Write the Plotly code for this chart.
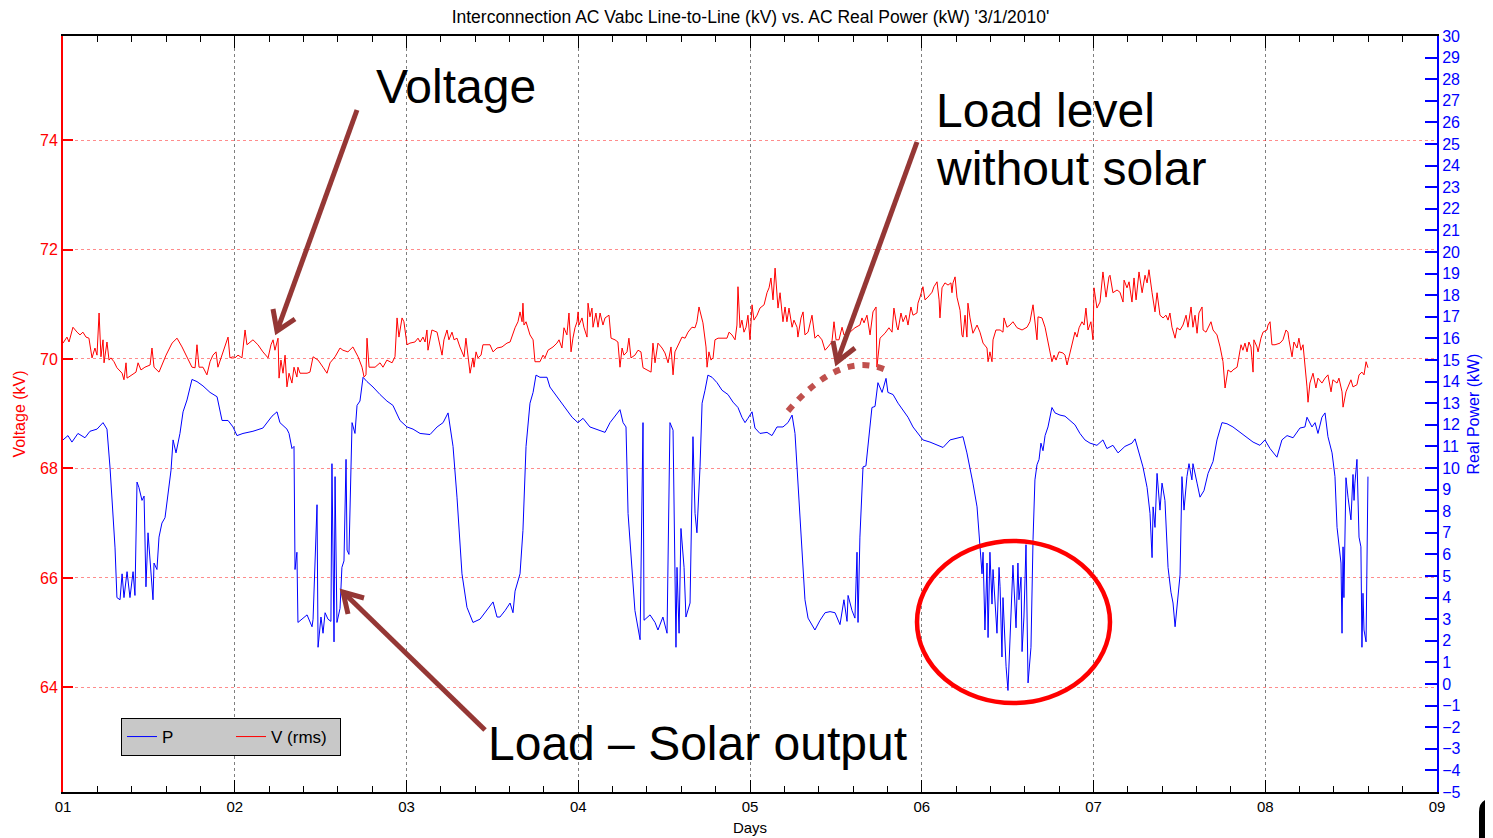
import plotly.graph_objects as go

# ---------------- data ----------------
# Real power P (kW), right axis
p_day = [1.000,1.029,1.052,1.087,1.128,1.157,1.198,1.233,1.256,1.274,1.303,1.314,1.332,1.344,1.355,1.373,1.390,1.408,1.419,1.431,
         1.442,1.460,1.472,1.483,1.495,1.524,1.530,1.547,1.559,1.576,1.594,1.611,1.629,1.641,1.658,1.681,1.699,1.722,1.751,1.780,
         1.815,1.856,1.897,1.926,1.961,1.990,2.013,2.048,2.106,2.164,2.217,2.246,2.263,2.304,2.316,2.333,2.345,2.351,2.362,2.368,
         2.392,2.421,2.450,2.456,2.479,2.485,2.502,2.514,2.526,2.543,2.560,2.566,2.578,2.584,2.595,2.613,2.624,2.636,2.648,2.654,
         2.665,2.683,2.700,2.712,2.729,2.747,2.770,2.805,2.846,2.886,2.921,2.962,3.003,3.038,3.079,3.137,3.178,3.213,3.242,3.253,
         3.271,3.294,3.323,3.352,3.387,3.428,3.468,3.504,3.527,3.544,3.574,3.603,3.620,3.632,3.661,3.678,3.696,3.719,3.737,3.754,
         3.777,3.818,3.835,3.882,3.923,3.964,3.998,4.028,4.068,4.115,4.156,4.185,4.243,4.261,4.278,4.290,4.313,4.330,4.360,4.377,
         4.383,4.418,4.447,4.464,4.493,4.517,4.534,4.552,4.569,4.575,4.587,4.598,4.616,4.627,4.651,4.668,4.680,4.691,4.709,4.721,
         4.738,4.755,4.779,4.808,4.837,4.872,4.901,4.930,4.953,4.971,4.988,5.012,5.029,5.058,5.099,5.128,5.157,5.192,5.221,5.245,
         5.262,5.279,5.303,5.320,5.338,5.378,5.408,5.437,5.466,5.495,5.524,5.547,5.565,5.571,5.594,5.611,5.623,5.629,5.640,5.658,
         5.675,5.687,5.710,5.728,5.745,5.769,5.792,5.803,5.833,5.862,5.891,5.920,5.949,5.978,6.007,6.048,6.089,6.124,6.165,6.206,
         6.240,6.263,6.281,6.298,6.322,6.339,6.351,6.357,6.368,6.380,6.386,6.397,6.409,6.415,6.438,6.450,6.456,6.467,6.473,6.491,
         6.502,6.531,6.549,6.560,6.566,6.578,6.584,6.595,6.607,6.619,6.636,6.648,6.659,6.671,6.683,6.694,6.706,6.718,6.735,6.758,
         6.776,6.805,6.834,6.863,6.892,6.921,6.950,6.980,7.020,7.055,7.078,7.113,7.143,7.183,7.224,7.242,7.259,7.288,7.312,7.329,
         7.341,7.347,7.358,7.370,7.387,7.399,7.416,7.434,7.451,7.463,7.475,7.486,7.504,7.515,7.527,7.544,7.556,7.573,7.579,7.603,
         7.620,7.643,7.667,7.696,7.719,7.748,7.777,7.812,7.853,7.894,7.929,7.969,7.998,8.028,8.068,8.097,8.127,8.162,8.202,8.231,
         8.243,8.272,8.290,8.307,8.330,8.348,8.365,8.389,8.406,8.418,8.429,8.441,8.447,8.453,8.458,8.470,8.482,8.499,8.511,8.517,
         8.522,8.534,8.546,8.557,8.563,8.569,8.575,8.587,8.598]
p_kw = [11.3,11.5,11.2,11.6,11.4,11.7,11.8,12.1,11.8,10.0,6.3,4.0,3.9,5.1,4.0,5.2,4.0,5.2,4.1,9.35,
        9.1,8.5,8.7,4.5,7.0,3.9,5.6,5.3,6.8,7.45,7.7,8.8,9.9,11.3,10.7,11.6,12.6,13.15,14.1,14.0,
        13.8,13.5,13.3,12.2,12.2,11.9,11.5,11.6,11.7,11.85,12.4,12.6,12.1,11.8,11.6,10.9,11.0,5.3,6.1,2.85,
        3.0,3.2,2.65,3.0,8.3,1.7,3.1,2.35,3.3,3.0,2.9,10.2,1.95,9.6,2.85,3.5,5.4,5.7,10.4,6.2,
        6.0,12.1,11.6,12.9,13.1,14.2,14.0,13.75,13.4,13.1,12.9,12.2,11.9,11.8,11.6,11.55,11.9,12.1,12.55,12.0,
        11.0,8.65,5.1,3.55,2.85,3.0,3.4,3.8,3.1,3.1,3.4,3.75,3.3,4.3,5.1,7.1,11.0,13.0,13.5,14.3,
        14.2,14.2,13.75,13.25,12.8,12.35,12.1,12.3,11.9,11.75,11.65,12.1,12.7,12.1,11.9,7.9,5.1,3.4,2.05,12.1,
        2.95,3.2,2.85,2.5,3.1,2.35,12.1,11.75,1.7,5.4,2.35,7.2,5.4,3.1,3.75,11.45,7.9,7.0,10.05,13.0,
        13.6,14.3,14.2,13.95,13.6,13.4,13.05,12.8,12.35,12.1,12.3,12.6,11.85,11.6,11.65,11.5,11.9,11.9,12.1,12.45,
        11.6,9.45,6.35,3.9,3.05,2.5,2.95,3.3,3.35,3.3,2.75,3.9,2.9,4.1,3.4,3.05,6.1,2.85,6.8,10.05,
        10.1,11.15,12.8,12.85,13.95,13.5,14.15,13.5,13.4,13.0,12.7,12.35,11.9,11.6,11.3,11.2,11.05,10.95,11.3,11.4,
        11.45,10.7,10.05,9.3,8.2,6.35,5.1,6.1,2.5,5.6,2.15,6.1,3.7,5.3,2.35,5.4,4.5,1.25,4.0,0.8,
        -0.3,5.5,2.6,5.6,3.9,4.95,1.5,3.1,6.45,0.05,1.7,6.7,9.45,10.15,10.4,11.15,10.8,11.5,11.9,12.8,
        12.55,12.45,12.4,12.2,12.0,11.6,11.3,11.15,11.05,11.3,10.9,11.05,10.7,11.0,11.15,11.35,10.85,10.05,9.1,7.9,
        5.85,8.2,7.25,9.75,8.05,9.3,8.5,5.4,4.25,3.75,2.65,3.55,5.05,9.6,8.05,9.6,10.2,9.45,10.2,9.3,
        8.65,8.95,9.75,10.3,11.3,12.1,12.05,11.9,11.65,11.4,11.2,11.05,11.3,10.9,10.5,11.3,11.5,11.4,11.85,11.9,
        12.35,11.9,12.1,11.6,12.35,12.55,11.45,10.7,9.6,7.25,6.5,5.6,2.35,6.35,4.0,9.55,8.65,7.6,9.7,8.5,
        9.3,10.4,6.8,6.35,1.7,4.2,2.5,1.95,9.6]

# Voltage V rms (kV), left axis
v_day = [1.000,1.023,1.035,1.058,1.082,1.099,1.116,1.134,1.151,1.169,1.186,1.198,1.210,1.221,1.233,1.239,1.256,1.268,1.279,1.297,
         1.314,1.344,1.355,1.367,1.373,1.402,1.425,1.437,1.454,1.477,1.507,1.518,1.530,1.559,1.576,1.600,1.635,1.664,1.693,1.722,
         1.751,1.769,1.780,1.792,1.815,1.838,1.856,1.873,1.891,1.902,1.926,1.943,1.961,1.972,1.990,2.001,2.019,2.042,2.060,2.071,
         2.106,2.135,2.164,2.194,2.211,2.223,2.234,2.252,2.258,2.269,2.281,2.293,2.304,2.316,2.333,2.345,2.362,2.368,2.380,2.421,
         2.438,2.456,2.485,2.514,2.537,2.555,2.584,2.613,2.630,2.659,2.688,2.718,2.741,2.753,2.764,2.770,2.782,2.817,2.846,2.863,
         2.886,2.916,2.933,2.945,2.956,2.974,2.985,3.003,3.020,3.049,3.067,3.079,3.096,3.108,3.119,3.125,3.148,3.178,3.189,3.207,
         3.218,3.236,3.247,3.265,3.277,3.294,3.311,3.335,3.346,3.370,3.387,3.393,3.405,3.416,3.434,3.445,3.486,3.504,3.527,3.556,
         3.585,3.603,3.632,3.649,3.661,3.673,3.678,3.684,3.696,3.719,3.737,3.748,3.777,3.795,3.806,3.824,3.853,3.876,3.888,3.905,
         3.917,3.934,3.946,3.958,3.969,3.981,3.993,3.999,4.004,4.022,4.033,4.051,4.057,4.068,4.080,4.086,4.103,4.115,4.127,4.144,
         4.156,4.179,4.191,4.214,4.231,4.243,4.255,4.266,4.284,4.295,4.307,4.330,4.348,4.365,4.377,4.400,4.424,4.435,4.447,4.464,
         4.488,4.505,4.523,4.540,4.552,4.563,4.581,4.604,4.622,4.639,4.662,4.680,4.691,4.703,4.726,4.744,4.750,4.761,4.773,4.785,
         4.796,4.814,4.866,4.878,4.895,4.913,4.924,4.930,4.942,4.953,4.965,4.977,4.988,5.000,5.012,5.023,5.041,5.058,5.082,5.099,
         5.111,5.122,5.134,5.146,5.163,5.175,5.186,5.192,5.204,5.215,5.227,5.245,5.256,5.274,5.279,5.297,5.309,5.320,5.338,5.361,
         5.378,5.396,5.419,5.437,5.454,5.477,5.489,5.501,5.518,5.536,5.547,5.582,5.611,5.640,5.652,5.664,5.681,5.699,5.716,5.734,
         5.739,5.757,5.786,5.809,5.827,5.838,5.856,5.862,5.879,5.891,5.908,5.920,5.937,5.949,5.972,5.978,5.990,6.007,6.019,6.036,
         6.060,6.071,6.089,6.101,6.106,6.118,6.135,6.153,6.170,6.176,6.182,6.194,6.205,6.223,6.234,6.240,6.252,6.263,6.269,6.281,
         6.298,6.322,6.339,6.357,6.380,6.386,6.397,6.409,6.415,6.432,6.456,6.473,6.479,6.496,6.514,6.531,6.555,6.584,6.613,6.630,
         6.648,6.671,6.677,6.700,6.718,6.735,6.758,6.770,6.782,6.799,6.822,6.834,6.846,6.863,6.881,6.892,6.904,6.916,6.933,6.945,
         6.956,6.968,6.985,6.997,7.003,7.020,7.038,7.055,7.073,7.090,7.096,7.113,7.137,7.154,7.172,7.178,7.195,7.207,7.224,7.236,
         7.248,7.265,7.283,7.300,7.312,7.323,7.341,7.358,7.370,7.387,7.405,7.422,7.434,7.445,7.457,7.475,7.486,7.504,7.521,7.539,
         7.550,7.568,7.579,7.591,7.603,7.614,7.632,7.638,7.655,7.684,7.696,7.719,7.737,7.754,7.766,7.783,7.801,7.812,7.836,7.847,
         7.859,7.870,7.882,7.894,7.905,7.917,7.929,7.934,7.952,7.958,7.975,7.987,8.010,8.016,8.028,8.039,8.057,8.086,8.103,8.121,
         8.132,8.138,8.156,8.167,8.185,8.196,8.208,8.220,8.231,8.243,8.249,8.260,8.278,8.295,8.307,8.330,8.348,8.365,8.383,8.394,
         8.418,8.429,8.447,8.453,8.470,8.482,8.499,8.511,8.534,8.546,8.563,8.575,8.587,8.598]
v_kv = [70.29,70.40,70.31,70.58,70.49,70.44,70.49,70.40,70.38,70.02,70.20,70.07,70.84,70.04,70.35,69.93,70.31,69.98,70.02,69.95,
        69.84,69.74,69.62,69.93,69.65,69.71,69.76,69.93,69.80,69.85,69.89,70.20,69.85,69.76,69.89,70.07,70.29,70.38,70.22,70.02,
        69.85,69.84,70.26,69.85,69.85,69.71,69.95,70.07,70.13,69.85,70.07,70.22,70.40,70.02,70.04,70.02,70.07,70.02,70.53,70.26,
        70.35,70.26,70.13,70.02,70.26,70.35,70.16,70.38,69.65,69.98,69.74,70.07,69.49,69.74,69.56,69.85,69.67,69.85,69.74,69.74,
        69.76,70.04,69.98,69.85,69.74,69.93,70.04,70.20,70.16,70.13,70.22,70.04,69.85,69.67,69.71,70.38,69.85,69.85,69.93,69.85,
        69.98,69.93,70.04,70.75,70.40,70.75,70.68,70.26,70.29,70.31,70.38,70.31,70.40,70.31,70.53,70.16,70.53,70.49,70.31,70.07,
        70.35,70.53,70.35,70.49,70.35,70.38,70.22,70.04,70.38,69.74,70.02,69.85,70.13,70.02,70.07,70.26,70.26,70.13,70.20,70.22,
        70.29,70.31,70.57,70.68,70.86,70.68,71.02,70.62,70.68,70.44,70.35,69.95,69.95,70.07,70.02,70.16,70.22,70.29,70.35,70.20,
        70.57,70.44,70.84,70.13,70.38,70.57,70.68,70.86,70.62,70.75,70.58,70.40,71.02,70.77,70.93,70.58,70.84,70.58,70.84,70.62,
        70.75,70.80,70.38,70.35,70.31,69.85,70.20,70.07,70.13,70.38,70.02,70.07,70.16,70.13,69.84,69.80,69.76,70.29,69.93,70.29,
        70.20,70.11,69.93,70.22,69.71,70.13,70.26,70.40,70.38,70.49,70.58,70.57,70.68,70.95,70.66,70.22,69.85,70.13,69.98,70.02,
        70.35,70.38,70.38,70.49,70.44,70.35,70.62,71.32,70.57,70.71,70.49,70.58,70.80,70.35,70.99,70.71,70.80,70.93,70.99,71.21,
        71.30,71.48,71.08,71.66,70.93,71.21,70.86,70.68,70.95,70.68,70.93,70.58,70.71,70.58,70.40,70.75,70.86,70.44,70.49,70.80,
        70.38,70.44,70.35,70.16,70.22,70.31,70.68,70.35,70.35,70.58,70.44,70.49,70.57,70.62,70.75,70.66,70.80,70.44,70.86,70.95,
        69.85,70.38,70.47,70.57,70.49,70.93,70.58,70.53,70.84,70.68,70.80,70.62,70.95,70.80,70.84,71.02,71.13,71.32,71.08,71.13,
        71.22,71.32,71.41,71.08,70.75,71.30,71.39,71.35,71.39,71.21,71.39,71.50,71.13,70.89,70.44,70.40,70.80,70.40,71.02,70.75,
        70.47,70.62,70.49,70.29,70.20,69.95,70.13,69.95,70.35,70.53,70.53,70.49,70.75,70.58,70.62,70.68,70.57,70.53,70.58,70.68,
        70.99,70.35,70.77,70.75,70.58,70.31,69.95,70.07,69.98,70.13,70.11,70.07,69.89,70.11,70.35,70.49,70.40,70.57,70.68,70.62,
        70.93,70.53,70.68,70.35,71.30,70.93,71.04,71.59,71.13,71.50,71.53,71.21,71.26,71.22,71.04,71.44,71.30,71.41,71.04,71.48,
        71.08,71.59,71.21,71.53,71.39,71.63,71.21,70.86,71.21,70.80,70.75,70.80,70.71,70.84,70.58,70.38,70.57,70.53,70.62,70.80,
        70.58,70.95,70.58,70.80,70.47,70.84,70.95,70.53,70.49,70.68,70.53,70.44,70.22,69.95,69.47,69.80,69.76,69.80,69.85,70.02,
        70.26,70.16,70.29,70.13,70.31,70.22,69.76,70.35,70.22,70.13,70.38,70.49,70.53,70.62,70.68,70.26,70.26,70.29,70.35,70.53,
        70.49,70.35,70.04,70.31,70.20,70.38,70.16,70.26,69.93,69.49,69.21,69.56,69.74,69.47,69.65,69.56,69.65,69.71,69.40,69.62,
        69.56,69.65,69.40,69.12,69.40,69.49,69.62,69.49,69.53,69.71,69.76,69.71,69.95,69.84]

day_ticks = [1, 2, 3, 4, 5, 6, 7, 8, 9]
day_labels = ["01", "02", "03", "04", "05", "06", "07", "08", "09"]
v_ticks = [64, 66, 68, 70, 72, 74]
v_range = [62.09, 75.9]
p_range = [-5, 30]

# ---------------- figure geometry ----------------
# the page body adds an 8 px offset; the figure is sized so the plot area
# sits at screen x 63..1437, y 36..792
OFF = 8
W, H = 1485, 830
PX0, PX1, PY0, PY1 = 63, 1437, 36, 792
L, R, T, B = PX0 - OFF, W + OFF - PX1, PY0 - OFF, H + OFF - PY1
FONT = "Liberation Sans, Arial, sans-serif"


def fx(x):
    return (x - PX0) / (PX1 - PX0)


def fy(y):
    return (PY1 - y) / (PY1 - PY0)


fig = go.Figure()
fig.add_trace(go.Scatter(x=p_day, y=p_kw, name="P", mode="lines",
                         line=dict(color="#0000ff", width=1), yaxis="y2"))
fig.add_trace(go.Scatter(x=v_day, y=v_kv, name="V (rms)", mode="lines",
                         line=dict(color="#ff0000", width=1), yaxis="y"))

fig.update_layout(
    width=W, height=H,
    margin=dict(l=L, r=R, t=T, b=B),
    paper_bgcolor="white", plot_bgcolor="white",
    font=dict(family=FONT, color="black"),
    title=dict(text="Interconnection AC Vabc Line-to-Line (kV) vs. AC Real Power (kW) '3/1/2010'",
               x=0.5, xanchor="center", y=1 - (17 - OFF) / H, yanchor="middle",
               font=dict(size=17.5, color="black")),
    xaxis=dict(range=[1, 9], tickvals=day_ticks, ticktext=day_labels,
               ticks="inside", ticklen=12, tickwidth=1, tickcolor="black",
               showline=True, linecolor="black", linewidth=1.5, mirror="ticks",
               showgrid=True, gridcolor="#7f7f7f", griddash="dot", gridwidth=1,
               zeroline=False, tickfont=dict(size=15),
               minor=dict(tick0=1, dtick=0.2, ticks="inside", ticklen=6,
                          tickcolor="black", showgrid=False),
               title=dict(text="Days", font=dict(size=15), standoff=9),
               automargin=False),
    yaxis=dict(range=v_range, tickvals=v_ticks, ticks="inside", ticklen=10,
               tickwidth=1.5, tickcolor="#ff0000", showline=True,
               linecolor="#ff0000", linewidth=2,
               tickfont=dict(size=16, color="#ff0000"),
               title=dict(text="Voltage (kV)", font=dict(size=16, color="#ff0000"), standoff=10),
               showgrid=True, gridcolor="rgba(255,0,0,0.45)", griddash="dot",
               gridwidth=1, zeroline=False, automargin=False),
    yaxis2=dict(range=p_range, overlaying="y", side="right", tick0=0, dtick=1,
                ticks="inside", ticklen=12, tickwidth=1.5, tickcolor="#0000ff",
                showline=True, linecolor="#0000ff", linewidth=2,
                tickfont=dict(size=16, color="#0000ff"),
                title=dict(text="Real Power (kW)", font=dict(size=16, color="#0000ff"), standoff=8),
                showgrid=False, zeroline=False, automargin=False),
    legend=dict(x=fx(121), y=fy(718), xanchor="left", yanchor="top",
                orientation="h", bgcolor="#c8c8c8", bordercolor="black",
                borderwidth=1, font=dict(size=17), tracegroupgap=0,
                entrywidth=64, entrywidthmode="pixels"),
    showlegend=True,
)

# ---------------- callouts ----------------
ARROW = "#953735"
BIG = 48
texts = [
    ("Voltage", 374, 87),
    ("Load level", 934, 111),
    ("without solar", 934, 168),
    ("Load \u2013 Solar output", 486, 743),
]
for t, x, y in texts:
    fig.add_annotation(text=t, x=fx(x), y=fy(y), xref="paper", yref="paper",
                       xanchor="left", yanchor="middle", showarrow=False,
                       font=dict(size=BIG, color="black", family=FONT))


def seg_path(pts):
    return "M " + " L ".join(f"{fx(a):.5f},{fy(b):.5f}" for a, b in pts)


arrows = [
    # (tail, tip, barb1, barb2)
    ((357, 110), (277, 331), (273, 309), (295, 319)),
    ((917, 142), (837, 362), (833, 341), (855, 348)),
    ((485, 730), (343, 592), (348, 614), (364, 598)),
]
for tail, tip, b1, b2 in arrows:
    fig.add_shape(type="path", path=seg_path([tail, tip]), xref="paper", yref="paper",
                  line=dict(color=ARROW, width=5))
    fig.add_shape(type="path", path=seg_path([b1, tip, b2]), xref="paper", yref="paper",
                  line=dict(color=ARROW, width=5))

# dotted "load level without solar" arc
arc = (f"M {fx(788):.5f},{fy(411):.5f} Q {fx(840):.5f},{fy(350):.5f} "
       f"{fx(886):.5f},{fy(370):.5f}")
fig.add_shape(type="path", path=arc, xref="paper", yref="paper",
              line=dict(color="#c0504d", width=6, dash="7px,8px"))

# red ellipse around the deep dips
fig.add_shape(type="circle", xref="paper", yref="paper",
              x0=fx(917), x1=fx(1110), y0=fy(703), y1=fy(541),
              line=dict(color="#ff0000", width=4.5))

# partial dark frame in the bottom-right corner
corner = (f"M {fx(1482):.5f},{fy(840):.5f} L {fx(1482):.5f},{fy(812):.5f} "
          f"Q {fx(1482):.5f},{fy(801):.5f} {fx(1495):.5f},{fy(801):.5f}")
fig.add_shape(type="path", path=corner, xref="paper", yref="paper",
              line=dict(color="black", width=6))

fig.write_html("out.html")
